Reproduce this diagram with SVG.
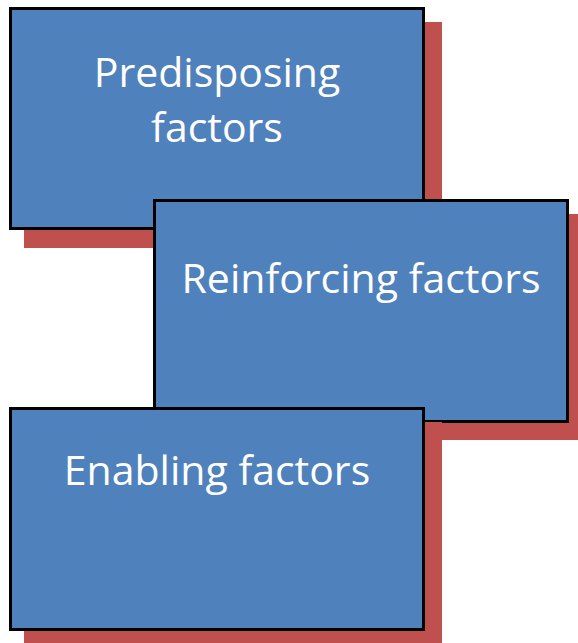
<svg xmlns="http://www.w3.org/2000/svg" width="578" height="643" viewBox="0 0 578 643">
<style>
.shadow{fill:#C0504D;}
.box{fill:#4F81BD;stroke:#000;stroke-width:3;}
.label{fill:#fff;font-family:"Open Sans","Noto Sans","Liberation Sans",sans-serif;font-size:41px;text-anchor:middle;}
</style>
<rect width="578" height="643" fill="#fff"/>
<g id="predisposing">
<rect class="shadow" x="24" y="22" width="418" height="226"/>
<rect class="box" x="10.5" y="8.5" width="413" height="220"/>
<text class="label" x="217" y="87">Predisposing</text>
<text class="label" x="217" y="142">factors</text>
</g>
<g id="reinforcing">
<rect class="shadow" x="168" y="214" width="418" height="226"/>
<rect class="box" x="154.5" y="200.5" width="413" height="221"/>
<text class="label" x="361" y="293">Reinforcing factors</text>
</g>
<g id="enabling">
<rect class="shadow" x="24" y="422" width="418" height="226"/>
<rect class="box" x="10.5" y="408.5" width="413" height="221"/>
<text class="label" x="217" y="485">Enabling factors</text>
</g>
<g id="connectors"/>
</svg>
